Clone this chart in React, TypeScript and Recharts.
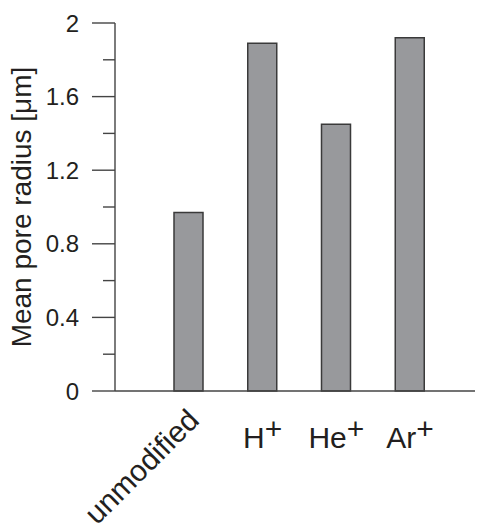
import React from 'react';
import { BarChart, Bar, XAxis, YAxis } from 'recharts';

const categories = ['unmodified', 'H+', 'He+', 'Ar+'];
const poreRadius = [0.97, 1.89, 1.45, 1.92];
const yTicks = [0, 0.2, 0.4, 0.6, 0.8, 1.0, 1.2, 1.4, 1.6, 1.8, 2.0];
const yLabels = ['0', '', '0.4', '', '0.8', '', '1.2', '', '1.6', '', '2'];

const data = categories.map((name, i) => ({ name, value: poreRadius[i] }));

const INK = '#231f20';
const FONT = '"Liberation Sans", Arial, sans-serif';

const YTick = (props: any) => {
  const { x, y, index } = props;
  const label = yLabels[index];
  const major = label !== '';
  return (
    <g>
      <line x1={x - (major ? 23 : 12)} x2={x} y1={y} y2={y} stroke="#444" strokeWidth={1.4} />
      {major && (
        <text x={x - 36} y={y + 8.5} textAnchor="end" fontSize={24} fill={INK} fontFamily={FONT}>
          {label}
        </text>
      )}
    </g>
  );
};

const XTick = (props: any) => {
  const { x, y, payload } = props;
  const v: string = payload.value;
  if (v === 'unmodified') {
    const ax = x + 12;
    const ay = y + 31;
    return (
      <text
        x={ax}
        y={ay}
        textAnchor="end"
        fontSize={30}
        fill={INK}
        fontFamily={FONT}
        transform={`rotate(-45 ${ax} ${ay})`}
      >
        {v}
      </text>
    );
  }
  const base = v.replace('+', '');
  return (
    <text x={x} y={y + 57} textAnchor="middle" fontSize={30} fill={INK} fontFamily={FONT}>
      {base}
      <tspan dy={-9}>+</tspan>
    </text>
  );
};

export default function App() {
  return (
    <div style={{ position: 'absolute', left: 0, top: 0, background: '#fff' }}>
      <BarChart width={477} height={529} data={data} margin={{ top: 23, right: 2, bottom: 108, left: 0 }}>
        <XAxis
          dataKey="name"
          height={30}
          tick={<XTick />}
          tickLine={false}
          tickSize={0}
          tickMargin={0}
          interval={0}
          padding={{ left: 37, right: 28 }}
          axisLine={{ stroke: '#444', strokeWidth: 1.4 }}
        />
        <YAxis
          width={115}
          domain={[0, 2]}
          ticks={yTicks}
          interval={0}
          tick={<YTick />}
          tickLine={false}
          tickSize={0}
          tickMargin={0}
          axisLine={{ stroke: '#444', strokeWidth: 1.4 }}
          label={{
            value: 'Mean pore radius [μm]',
            angle: -90,
            position: 'insideLeft',
            offset: 0,
            dx: 21,
            style: { fontSize: 28, fill: INK, fontFamily: FONT, textAnchor: 'middle' },
          }}
        />
        <Bar dataKey="value" barSize={29} fill="#98999c" stroke="#3a3a3a" strokeWidth={1.5} isAnimationActive={false} />
      </BarChart>
    </div>
  );
}
